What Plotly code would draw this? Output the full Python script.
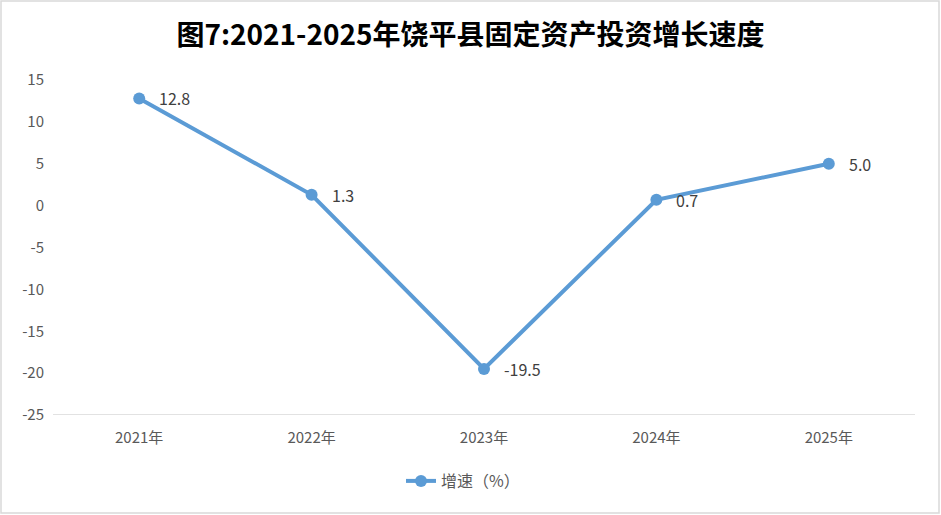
import plotly.graph_objects as go

years = ['2021年', '2022年', '2023年', '2024年', '2025年']
growth = [12.8, 1.3, -19.5, 0.7, 5.0]
labels = ['12.8', '1.3', '-19.5', '0.7', '5.0']
y_ticks = [15, 10, 5, 0, -5, -10, -15, -20, -25]
y_tick_text = ['15', '10', '5', '0', '-5', '-10', '-15', '-20', '-25']

W, H = 941, 515
ml, mr, mt, mb = 53, 26, 80, 100
pw, ph = W - ml - mr, H - mt - mb

fig = go.Figure()
fig.add_trace(go.Scatter(
    x=years, y=growth, name='增速（%）',
    mode='lines+markers',
    line=dict(color='#5B9BD5', width=4),
    marker=dict(color='#5B9BD5', size=12),
))

# data labels to the right of each point
for yr, v, t in zip(years, growth, labels):
    fig.add_annotation(x=yr, y=v, text=t, showarrow=False,
                       xanchor='left', yanchor='middle', xshift=18,
                       font=dict(size=16, color='#404040'))

# light gray frame around the whole chart
fig.add_shape(type='rect', xref='paper', yref='paper',
              x0=(1 - ml) / pw, x1=(W - 2 - ml) / pw,
              y0=-(H - 2 - mt - ph) / ph, y1=(ph + mt - 1) / ph,
              line=dict(color='#D9D9D9', width=1.5), layer='below')

fig.update_layout(
    width=W, height=H,
    margin=dict(l=ml, r=mr, t=mt, b=mb, autoexpand=False),
    paper_bgcolor='white', plot_bgcolor='white',
    font=dict(family='Noto Sans CJK SC, sans-serif', color='#595959'),
    title=dict(text='<b>图7:2021-2025年饶平县固定资产投资增长速度</b>',
               x=0.5, xref='container', xanchor='center', y=1 - 35 / H, yanchor='middle',
               font=dict(size=28, color='black', family='Noto Sans CJK SC')),
    xaxis=dict(range=[-0.5, 4.5], showgrid=False, showline=False,
               ticks='', ticklabelstandoff=12,
               tickfont=dict(size=15, color='#595959')),
    yaxis=dict(range=[-25, 15], tickvals=y_ticks, ticktext=y_tick_text,
               showgrid=False, zeroline=False, showline=False, ticks='',
               ticklabelstandoff=8,
               tickfont=dict(size=15, color='#595959')),
    legend=dict(orientation='h', x=(463 - ml) / pw, xanchor='center',
                y=-66 / ph, yanchor='middle',
                bgcolor='rgba(0,0,0,0)', font=dict(size=16, color='#595959')),
    showlegend=True,
)

# x axis baseline at -25
fig.add_shape(type='line', xref='paper', yref='y', x0=0, x1=1, y0=-25, y1=-25,
              line=dict(color='#D9D9D9', width=1.5))

# drop the default page margin so the figure sits at the window corner
fig.write_html('out.html', config={'displayModeBar': False},
               post_script="document.body.style.margin='0';")
